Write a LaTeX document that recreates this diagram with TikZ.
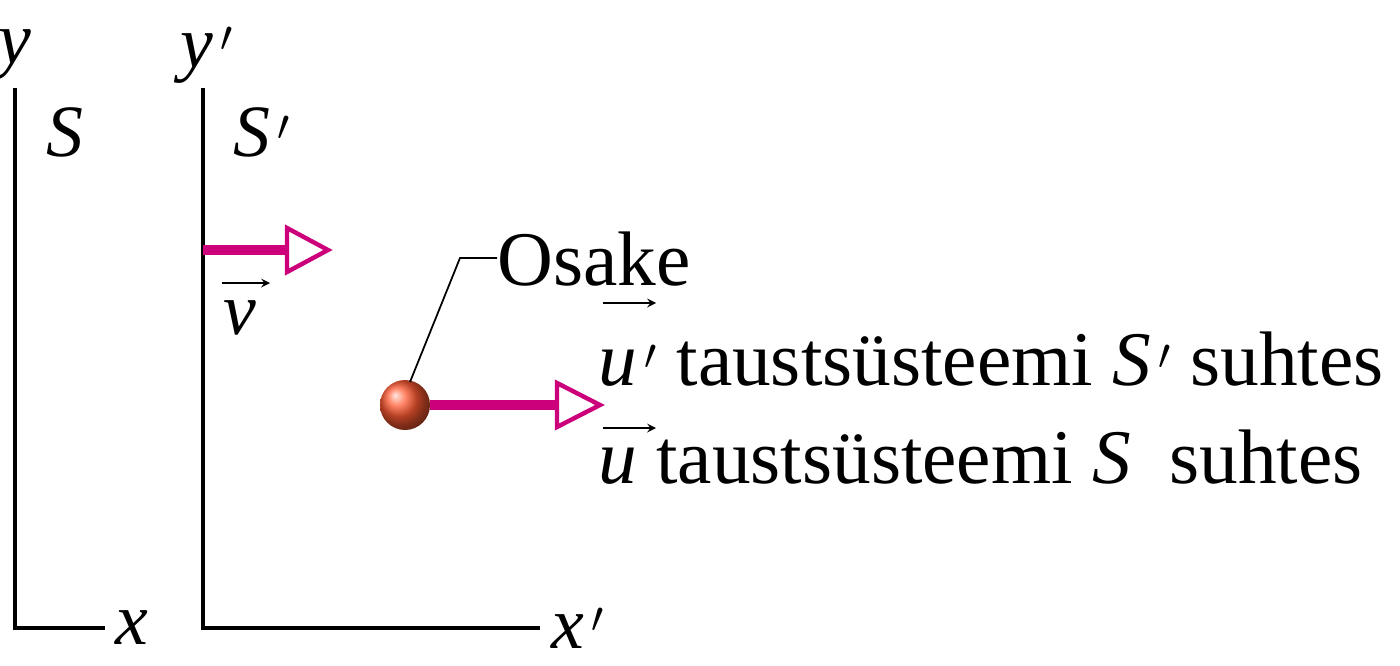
\documentclass[tikz,border=0pt]{standalone}
\usepackage{fontspec}
\setmainfont{Liberation Serif}
\definecolor{mag}{RGB}{204,0,122}
\definecolor{balc}{RGB}{255,90,50}
\begin{document}
\begin{tikzpicture}[x=0.02cm,y=-0.02cm,
  ax/.style={line width=2.2pt,black},
  lbl/.style={font=\fontsize{42}{48}\selectfont\itshape,inner sep=0pt},
  txt/.style={font=\fontsize{44}{52}\selectfont,inner sep=0pt,anchor=base west},
  vec/.style={line width=6pt,mag},
  head/.style={draw=mag,line width=2.5pt,fill=white,line join=miter}]
\useasboundingbox (0,0) rectangle (1400,666);
\coordinate (s0) at (15,628);
\draw[ax] (15,88) -- (s0) -- (105,628);
\draw[ax] (203,88) -- (203,628) -- (540,628);
\node[lbl] (ly) at (15,55) {y};
\node[lbl] (lx) at (132,628) {x};
\node[lbl] (lS) at (65,132) {S};
\node[lbl] (lyp) at (207,55) {y$\,'$};
\node[lbl] (lxp) at (578,628) {x$\,'$};
\node[lbl] (lSp) at (262,132) {S$\,'$};
% v arrow
\draw[vec] (203,250) -- (290,250);
\draw[head] (287,228) -- (328,250) -- (287,272) -- cycle;
\node[lbl] (lv) at (240,318) {v};
\draw[-stealth,line width=1.2pt] (222,283) -- (270,283);
% ball
\shade[ball color=balc] (405,405) circle (25);
\coordinate (ball) at (410,382);
\draw[vec] (430,405) -- (560,405);
\draw[head] (557,383) -- (600,405) -- (557,427) -- cycle;
\node[txt] (osake) at (497,285) {Osake};
\draw[line width=1pt] (ball) -- (460,258) -- (osake.west |- 0,258);
\node[txt] (up) at (598,385) {\textit{u}$\,'$ taustsüsteemi \textit{S}$\,'$ suhtes};
\draw[-stealth,line width=1.2pt] (603,303) -- (656,303);
\node[txt] (u) at (598,483) {\textit{u} taustsüsteemi \textit{S} \ suhtes};
\draw[-stealth,line width=1.2pt] (603,428) -- (656,428);
\end{tikzpicture}
\end{document}
